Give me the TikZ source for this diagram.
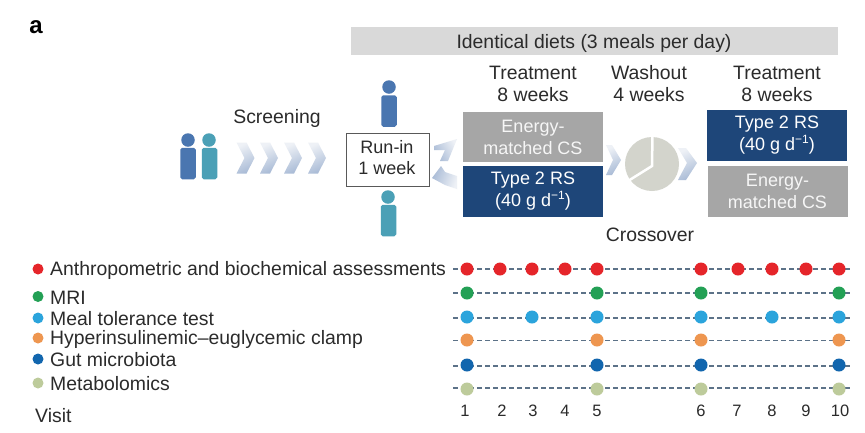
\documentclass[tikz,border=0pt]{standalone}
\usepackage{fontspec}
\setmainfont{Liberation Sans}
\definecolor{inkc}{HTML}{2B2B2B}
\definecolor{barc}{HTML}{D9D9D9}
\definecolor{navyc}{HTML}{1E4679}
\definecolor{grayc}{HTML}{A6A6A6}
\definecolor{bluep}{HTML}{4A76B0}
\definecolor{tealp}{HTML}{4BA0B6}
\definecolor{piec}{HTML}{D3D4CC}
\definecolor{dashc}{HTML}{5C7288}
\definecolor{redc}{HTML}{E5252A}
\definecolor{greenc}{HTML}{23A055}
\definecolor{skyc}{HTML}{2BA4DC}
\definecolor{orangec}{HTML}{EE9650}
\definecolor{deepc}{HTML}{1266AE}
\definecolor{sagec}{HTML}{BDCB9B}
\definecolor{chevlo}{HTML}{A9BBD6}
\definecolor{chevhi}{HTML}{EEF1F6}
\tikzset{
 txt/.style={font=\fontsize{19.4}{22}\selectfont,text=inkc,inner sep=0pt},
 ctr/.style={txt,align=center},
 lft/.style={txt,anchor=west},
 panel/.style={minimum width=140pt,minimum height=50.5pt,inner sep=0pt,align=center,text=white,font=\fontsize{18}{22}\selectfont},
 cs/.style={panel,fill=grayc,text=white!90!grayc},
 rs/.style={panel,fill=navyc},
 head/.style={circle,minimum size=13.5pt,inner sep=0pt,fill=#1},
 body/.style={rounded corners=1.8pt,minimum width=15.5pt,minimum height=31.5pt,inner sep=0pt,fill=#1},
 chev/.style={top color=chevhi,bottom color=chevlo,draw=none,shading angle=25},
 dot/.style={circle,minimum size=13pt,inner sep=0pt,fill=#1},
 ldot/.style={circle,minimum size=11pt,inner sep=0pt,fill=#1},
 track/.style={dashc,line width=1.4pt,dash pattern=on 5pt off 3pt},
 num/.style={txt,font=\fontsize{16.5}{18}\selectfont}
}
\newcommand{\chevat}[2]{\path[chev] (#1-9,#2-15.5) -- (#1+1,#2-15.5) -- (#1+9,#2) -- (#1+1,#2+15.5) -- (#1-9,#2+15.5) -- (#1-1,#2) -- cycle;}
\newcommand{\perday}{(40 g d\smash{\raisebox{7pt}{\fontsize{12}{12}\selectfont −1}})}
\begin{document}
\begin{tikzpicture}[x=1pt,y=-1pt]
\useasboundingbox (0,0) rectangle (865,432);
\fill[white] (0,0) rectangle (865,432);
\node[font=\fontsize{24}{26}\bfseries\selectfont,text=black,inner sep=0pt] (lbl) at (36,27.5) {a};
\node[fill=barc,minimum width=487pt,minimum height=28pt,inner sep=0pt] (diets) at (594.5,41) {};
\node[ctr] (dietst) at (594,43) {Identical diets (3 meals per day)};
\node[ctr] (t1a) at (533,73) {Treatment};
\node[ctr] (t1b) at (533,95) {8 weeks};
\node[ctr] (w1a) at (649,73) {Washout};
\node[ctr] (w1b) at (649,95) {4 weeks};
\node[ctr] (t2a) at (777,73) {Treatment};
\node[ctr] (t2b) at (777,95) {8 weeks};
\node[ctr] (scr) at (277,118) {Screening};
\node[ctr] (cross) at (650,235) {Crossover};
% people
\node[head=bluep] (h1) at (188,140) {};
\node[body=bluep] (b1) at (188,163.5) {};
\node[head=tealp] (h2) at (209,140) {};
\node[body=tealp] (b2) at (209.5,163.5) {};
\node[head=bluep] (h3) at (389,87) {};
\node[body=bluep] (b3) at (389,111) {};
\node[head=tealp] (h4) at (388,197) {};
\node[body=tealp] (b4) at (388.5,220.5) {};
% chevrons
\chevat{245.5}{158}
\chevat{269}{158}
\chevat{293}{158}
\chevat{317}{158}
% run-in
\node[draw=black!65,line width=.8pt,fill=white,minimum width=83pt,minimum height=53pt,inner sep=0pt] (runin) at (387.5,159.5) {};
\node[ctr,font=\fontsize{18}{21.5}\selectfont] (runint) at (387,157.5) {Run-in\\1 week};
% branch arrows
\path[top color=chevhi,bottom color=chevlo,shading angle=300] (434,146) -- (457,139) -- (448,161) -- (440,161) -- (445,150) -- (434,150) -- cycle;
\path[top color=chevlo,bottom color=chevhi,shading angle=70] (432,178) -- (441,166) -- (445,172) -- (457,176) -- (457,189) -- (445,185) -- cycle;
% panels
\node[cs] (cs1) at (533,137) {Energy-\\matched CS};
\node[rs] (rs1) at (533,191.5) {Type 2 RS\\\perday};
\node[rs] (rs2) at (777,135.5) {Type 2 RS\\\perday};
\node[cs] (cs2) at (777.5,191.5) {Energy-\\matched CS};
% washout
\path[chev] (606,145) -- (612,145) -- (621,160) -- (612,175) -- (606,175) -- (613,160) -- cycle;
\path[chev] (678,148) -- (686,148) -- (697,163) -- (686,180) -- (678,180) -- (687,163) -- cycle;
\coordinate (pc) at (652,166);
\fill[piec] (652,164) circle (27);
\draw[white,line width=2.5pt] (652.5,135) -- (pc) -- (628,181);
% legend
\foreach \n/\c/\y/\t in {a/redc/269/Anthropometric and biochemical assessments,b/greenc/296.5/MRI,c/skyc/318/Meal tolerance test,d/orangec/338/Hyperinsulinemic–euglycemic clamp,e/deepc/359/Gut microbiota,f/sagec/383/Metabolomics}{
 \node[ldot=\c] (L\n) at (38,\y) {};
 \node[lft] (T\n) at (50,\y+1) {\t};
}
\node[lft] (visit) at (35,415.5) {Visit};
% tracks
\foreach \n/\y in {a/269,b/293,c/318,d/340.5,e/366,f/388}{
 \coordinate (s\n) at (453,\y);
 \coordinate (e\n) at (850,\y);
 \draw[track] (s\n) -- (e\n);
}
\foreach \x/\k in {467/1,500/2,532/3,565/4,597/5,701/6,738/7,772/8,806/9,839/10}
 \node[dot=redc] (ra\k) at (\x,269) {};
\foreach \x/\k in {467/1,597/5,701/6,839/10}{
 \node[dot=greenc] (rb\k) at (\x,293) {};
 \node[dot=orangec] (rd\k) at (\x,340) {};
 \node[dot=deepc] (re\k) at (\x,365) {};
 \node[dot=sagec] (rf\k) at (\x,389) {};
}
\foreach \x/\k in {467/1,532/3,597/5,701/6,772/8,839/10}
 \node[dot=skyc] (rc\k) at (\x,317) {};
\foreach \x/\k in {465/1,502/2,533/3,565/4,597/5,701/6,737/7,772/8,806/9,840/10}
 \node[num] (n\k) at (\x,411) {\k};
\end{tikzpicture}
\end{document}
